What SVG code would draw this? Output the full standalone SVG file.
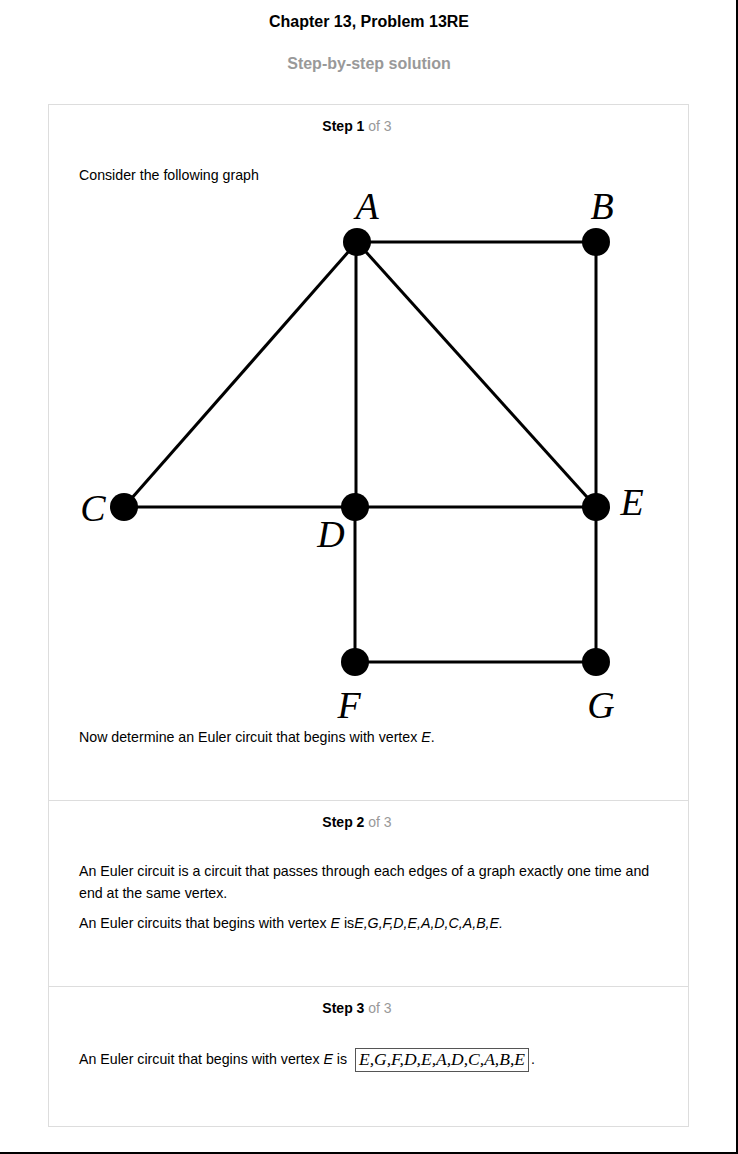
<svg xmlns="http://www.w3.org/2000/svg" width="738" height="1154" viewBox="0 0 738 1154">
<style>
.t{font-family:"Liberation Sans",Arial,sans-serif;font-size:14.2px;fill:#000}
.h{font-family:"Liberation Sans",Arial,sans-serif;font-weight:bold;font-size:16px}
.s{font-family:"Liberation Sans",Arial,sans-serif;font-size:14px;text-anchor:middle}
.g{fill:#999}
.lab{font-family:"Liberation Serif","Times New Roman",serif;font-style:italic;font-size:38px;fill:#000;text-anchor:middle}
.m{font-family:"Liberation Serif","Times New Roman",serif;font-style:italic;font-size:17px;fill:#000}
.edge{stroke:#000;stroke-width:3;fill:none}
.node{fill:#000}
</style>
<rect x="0" y="0" width="738" height="1154" fill="#fff"/>
<line x1="737" y1="0" x2="737" y2="1153" stroke="#000" stroke-width="2"/>
<line x1="0" y1="1153" x2="738" y2="1153" stroke="#000" stroke-width="2"/>
<text class="h" x="369" y="27" text-anchor="middle" fill="#000">Chapter 13, Problem 13RE</text>
<text class="h" x="369" y="69" text-anchor="middle" fill="#999">Step-by-step solution</text>
<rect x="48.5" y="104.5" width="640" height="1022" fill="none" stroke="#ddd" stroke-width="1"/>
<line x1="48.5" y1="800.5" x2="688.5" y2="800.5" stroke="#ddd"/>
<line x1="48.5" y1="986.5" x2="688.5" y2="986.5" stroke="#ddd"/>
<text class="s" x="357" y="131"><tspan font-weight="bold">Step 1</tspan><tspan class="g"> of 3</tspan></text>
<text class="t" x="79" y="180">Consider the following graph</text>
<g id="connectors">
<line class="edge" x1="357" y1="242" x2="596" y2="242"/>
<line class="edge" x1="357" y1="242" x2="124" y2="507"/>
<line class="edge" x1="356" y1="242" x2="356" y2="507"/>
<line class="edge" x1="357" y1="242" x2="596" y2="507"/>
<line class="edge" x1="596" y1="242" x2="596" y2="507"/>
<line class="edge" x1="124" y1="507" x2="596" y2="507"/>
<line class="edge" x1="355" y1="507" x2="355" y2="662"/>
<line class="edge" x1="596" y1="507" x2="596" y2="662"/>
<line class="edge" x1="355" y1="662" x2="596" y2="662"/>
</g>
<g id="A"><circle class="node" cx="357" cy="242" r="14"/><text class="lab" x="367" y="219">A</text></g>
<g id="B"><circle class="node" cx="596" cy="242" r="14"/><text class="lab" x="602" y="219">B</text></g>
<g id="C"><circle class="node" cx="124" cy="507" r="14"/><text class="lab" x="93" y="521">C</text></g>
<g id="D"><circle class="node" cx="355" cy="507" r="14"/><text class="lab" x="331" y="547">D</text></g>
<g id="E"><circle class="node" cx="596" cy="507" r="14"/><text class="lab" x="632" y="515">E</text></g>
<g id="F"><circle class="node" cx="355" cy="662" r="14"/><text class="lab" x="349" y="718">F</text></g>
<g id="G"><circle class="node" cx="596" cy="662" r="14"/><text class="lab" x="601" y="718">G</text></g>
<text class="t" x="79" y="742">Now determine an Euler circuit that begins with vertex <tspan font-style="italic">E</tspan>.</text>
<text class="s" x="357" y="827"><tspan font-weight="bold">Step 2</tspan><tspan class="g"> of 3</tspan></text>
<text class="t" x="79" y="876">An Euler circuit is a circuit that passes through each edges of a graph exactly one time and</text>
<text class="t" x="79" y="898">end at the same vertex.</text>
<text class="t" x="79" y="928">An Euler circuits that begins with vertex <tspan font-style="italic">E</tspan> is<tspan font-style="italic">E,G,F,D,E,A,D,C,A,B,E.</tspan></text>
<text class="s" x="357" y="1013"><tspan font-weight="bold">Step 3</tspan><tspan class="g"> of 3</tspan></text>
<text class="t" x="79" y="1064">An Euler circuit that begins with vertex <tspan font-style="italic">E</tspan> is</text>
<rect x="355.5" y="1048.5" width="173" height="23" fill="none" stroke="#555" stroke-width="1"/>
<text class="m" x="359" y="1065" textLength="166" lengthAdjust="spacingAndGlyphs">E,G,F,D,E,A,D,C,A,B,E</text>
<text class="t" x="531" y="1064">.</text>
</svg>
